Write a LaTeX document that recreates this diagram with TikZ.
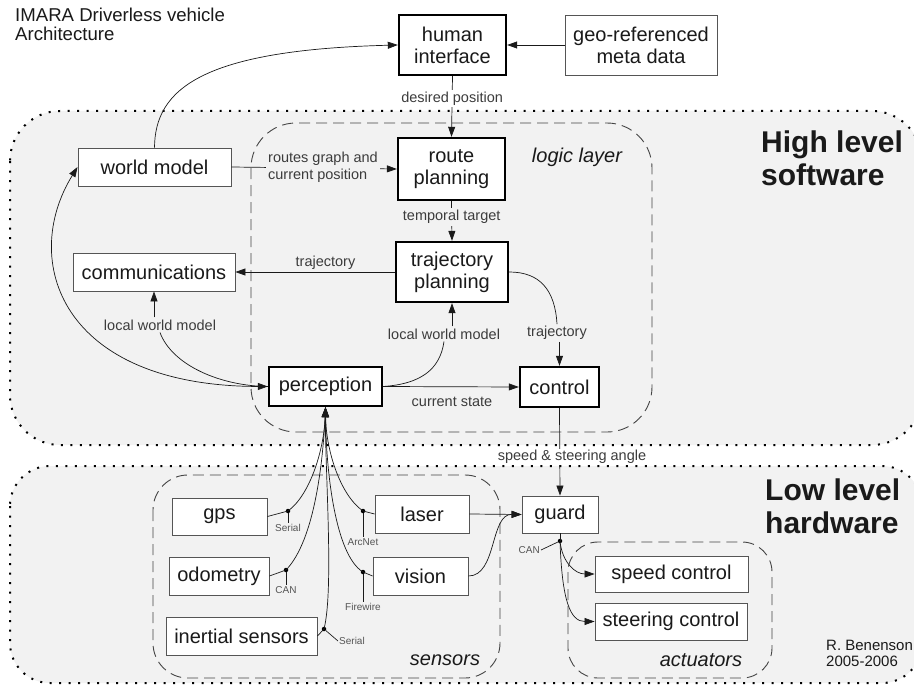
\documentclass[tikz,border=0pt]{standalone}
\usepackage{fontspec}
\setmainfont{Liberation Sans}
\usetikzlibrary{arrows.meta,calc}
\definecolor{bgfill}{HTML}{F2F2F2}
\definecolor{ink}{HTML}{1A1A1A}
\definecolor{edgec}{HTML}{555555}
\definecolor{dashc}{HTML}{444444}
\definecolor{softc}{HTML}{3C3C3C}
\begin{document}
\begin{tikzpicture}[x=1pt,y=-1pt,
  box/.style={draw=edgec, line width=0.9pt, fill=white, text=ink, inner sep=0pt, align=center,
    font=\fontsize{20}{22}\selectfont},
  tbox/.style={box, draw=black, line width=2.4pt},
  lbl/.style={text=softc, inner sep=2pt, align=left, font=\fontsize{14.5}{17}\selectfont},
  tiny/.style={text=edgec, inner sep=1pt, font=\fontsize{10}{12}\selectfont},
  ital/.style={text=ink, inner sep=0pt, font=\fontsize{20}{22}\selectfont\itshape},
  big/.style={text=ink, inner sep=0pt, align=left, font=\fontsize{30}{33}\selectfont\bfseries},
  conn/.style={draw=ink, line width=0.7pt},
  arr/.style={conn, -{Triangle[length=10pt,width=7pt]}},
  dotreg/.style={draw=black, line width=2pt, dash pattern=on 2pt off 7.5pt, fill=bgfill},
  dashreg/.style={draw=dashc, line width=0.9pt, dash pattern=on 11pt off 6pt},
  jdot/.style={circle, fill=black, inner sep=0pt, minimum size=4.5pt}
]
\useasboundingbox (0,0) rectangle (914,685);
\fill[white] (0,0) rectangle (914,685);
% regions
\draw[dotreg, rounded corners=50pt] (10,111) rectangle (922,445);
\draw[dotreg, rounded corners=40pt] (10,466) rectangle (922,683);
\draw[dashreg, rounded corners=45pt] (251,123) rectangle (652,432);
\draw[dashreg, rounded corners=35pt] (153,475) rectangle (500,678);
\draw[dashreg, rounded corners=30pt] (568,542) rectangle (772,678);

% texts
\node[anchor=north west, text=ink, align=left, inner sep=0pt, font=\fontsize{18.6}{18.6}\selectfont] (title) at (15,8) {IMARA Driverless vehicle\\Architecture};
\node[big, anchor=north west] (hls) at (761,131) {High level\\software};
\node[big, anchor=north west] (llh) at (765,479) {Low level\\hardware};
\node[anchor=north west, text=ink, align=left, inner sep=0pt, font=\fontsize{15}{16}\selectfont] (author) at (826,640) {R. Benenson\\2005-2006};
\node[ital] (logic) at (577,157) {logic layer};
\node[ital] (sens) at (445,660) {sensors};
\node[ital] (act) at (701,660) {actuators};

% boxes
\node[tbox, minimum width=107pt, minimum height=60pt] (hi) at (452.5,45) {human\\interface};
\node[box, minimum width=152pt, minimum height=60pt] (geo) at (641,45) {geo-referenced\\meta data};
\node[box, minimum width=153pt, minimum height=38pt] (wm) at (154.5,167) {world model};
\node[tbox, minimum width=107pt, minimum height=62pt] (rp) at (451.5,169) {route\\planning};
\node[tbox, minimum width=112pt, minimum height=60pt] (tp) at (452,272) {trajectory\\planning};
\node[box, minimum width=162pt, minimum height=38pt] (comm) at (154,272) {communications};
\node[tbox, minimum width=113pt, minimum height=39pt] (perc) at (325.5,386.5) {perception};
\node[tbox, minimum width=79pt, minimum height=40pt] (ctrl) at (559.5,387) {control};
\node[box, minimum width=95pt, minimum height=37pt] (gps) at (219.5,516.5) {gps};
\node[box, minimum width=100pt, minimum height=38pt] (odo) at (219,576) {odometry};
\node[box, minimum width=151pt, minimum height=38pt] (ins) at (241.5,636) {inertial sensors};
\node[box, minimum width=94pt, minimum height=38pt] (laser) at (422,514) {laser};
\node[box, minimum width=95pt, minimum height=38pt] (vision) at (420.5,576) {vision};
\node[box, minimum width=76pt, minimum height=37pt] (guard) at (560,514.5) {guard};
\node[box, minimum width=153pt, minimum height=36pt] (spd) at (671.5,574) {speed control};
\node[box, minimum width=152pt, minimum height=37pt] (str) at (671,621.5) {steering control};

% high level connectors
\draw[arr] (wm.north) .. controls (155,90) and (200,50) .. (hi.west);
\draw[arr] (geo.west) -- (hi.east);
\draw[arr] (hi.south) -- node[lbl, fill=white, pos=0.37] (dp) {desired position} (rp.north);
\draw[arr] (wm.east) -- (rp.west);
\node[lbl, fill=bgfill] (rg) at (323,167) {routes graph and\\current position};
\draw[arr] (rp.south) -- node[lbl, fill=bgfill, pos=0.4] (tt) {temporal target} (tp.north);
\draw[arr] (tp.west) -- node[lbl, above, pos=0.435] (trl) {trajectory} (comm.east);
\node[lbl] (trc) at (557,333) {trajectory};
\draw[conn] (tp.east) .. controls (540,272) and (555,290) .. (trc.north);
\draw[arr] (trc.south -| ctrl.north) -- (ctrl.north);
\draw[arr] (perc.east) -- (ctrl.west);
\node[lbl] (cs) at (452,402) {current state};
\node[lbl] (lwmr) at (444,334) {local world model};
\draw[conn] (perc.east) .. controls (420,384) and (440,370) .. (lwmr.south);
\draw[arr] (lwmr.north -| tp.south) -- (tp.south);
\node[lbl] (lwml) at (160,325) {local world model};
\draw[conn] (lwml.south) .. controls (172,365) and (220,386) .. (perc.west);
\draw[arr] (lwml.north -| comm.south) -- (comm.south);
\draw[conn, {Triangle[length=10pt,width=7pt]}-{Triangle[length=10pt,width=7pt]}] (wm.west) .. controls (20,260) and (60,386) .. (perc.west);

% control to guard
\draw[arr] (ctrl.south) -- (guard.north);
\node[lbl, fill=white, inner sep=1pt] (ssa) at (572,457) {speed \& steering angle};

% sensors
\node[jdot] (dgps) at (288,511) {};
\node[jdot] (dodo) at (286,570) {};
\node[jdot] (dins) at (324,629) {};
\node[jdot] (dlas) at (363,511) {};
\node[jdot] (dvis) at (363,572) {};
\node[tiny, anchor=north] (tgps) at (288,523) {Serial};
\node[tiny, anchor=north] (todo) at (286,585) {CAN};
\node[tiny, anchor=west] (tins) at (338,641) {Serial};
\node[tiny, anchor=north] (tlas) at (363,537) {ArcNet};
\node[tiny, anchor=north] (tvis) at (363,602) {Firewire};
\draw[conn] (gps.east) -- (dgps.center);
\draw[conn] (odo.east) -- (dodo.center);
\draw[conn] (ins.east) -- (dins.center);
\draw[conn] (laser.west) -- (dlas.center);
\draw[conn] (vision.west) -- (dvis.center);
\draw[conn] (dgps) -- (tgps.north);
\draw[conn] (dodo) -- (todo.north);
\draw[conn] (dins) -- (tins.west);
\draw[conn] (dlas) -- (tlas.north);
\draw[conn] (dvis) -- (tvis.north);
\draw[arr] (dgps.center) .. controls (310,495) and (324,450) .. (perc.south);
\draw[arr] (dodo.center) .. controls (315,540) and (323,460) .. (perc.south);
\draw[arr] (dins.center) .. controls (334,590) and (325,470) .. (perc.south);
\draw[arr] (dlas.center) .. controls (340,495) and (326,450) .. (perc.south);
\draw[arr] (dvis.center) .. controls (335,555) and (326,470) .. (perc.south);

% guard
\draw[arr] (laser.east) -- (guard.west);
\draw[arr] (vision.east) .. controls (497,576) and (490,514) .. (guard.west);
\node[jdot] (dgd) at (560,541) {};
\node[tiny, anchor=east] (tgd) at (541,550) {CAN};
\draw[conn] (guard.south) -- (dgd.center);
\draw[conn] (tgd.east) -- (dgd);
\draw[arr] (dgd.center) .. controls (562,562) and (575,574) .. (spd.west);
\draw[arr] (dgd.center) .. controls (562,600) and (570,621.5) .. (str.west);
\end{tikzpicture}
\end{document}
